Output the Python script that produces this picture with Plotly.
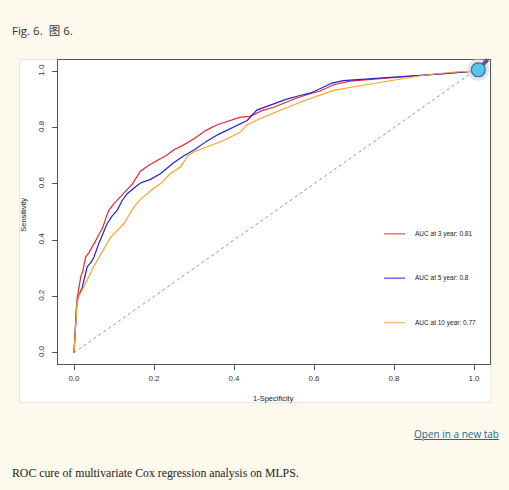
import plotly.graph_objects as go

# ROC points (1-specificity, sensitivity)
red_x = [0, 0.003, 0.005, 0.007, 0.012, 0.017, 0.022, 0.029, 0.037, 0.046, 0.055, 0.062, 0.071, 0.08,
         0.087, 0.10, 0.113, 0.125, 0.135, 0.146, 0.166, 0.187, 0.21, 0.23, 0.249, 0.27, 0.30, 0.33,
         0.358, 0.39, 0.416, 0.44, 0.47, 0.499, 0.53, 0.557, 0.59, 0.615, 0.649, 0.69, 0.75, 0.80,
         0.85, 0.898, 0.94, 0.981, 1.0]
red_y = [0, 0.06, 0.13, 0.186, 0.23, 0.27, 0.29, 0.34, 0.355, 0.376, 0.40, 0.42, 0.441, 0.48,
         0.506, 0.53, 0.55, 0.571, 0.585, 0.60, 0.645, 0.666, 0.685, 0.70, 0.72, 0.735, 0.76, 0.79,
         0.81, 0.825, 0.837, 0.84, 0.86, 0.872, 0.89, 0.905, 0.92, 0.93, 0.952, 0.965, 0.972, 0.978,
         0.983, 0.988, 0.995, 1.0, 1.0]

blue_x = [0, 0.002, 0.005, 0.007, 0.014, 0.021, 0.027, 0.033, 0.042, 0.05, 0.062, 0.072, 0.083, 0.095,
          0.108, 0.12, 0.133, 0.15, 0.166, 0.19, 0.216, 0.249, 0.275, 0.299, 0.33, 0.36, 0.383, 0.41,
          0.433, 0.457, 0.499, 0.53, 0.565, 0.59, 0.615, 0.645, 0.673, 0.72, 0.77, 0.82, 0.857, 0.91,
          0.965, 1.0]
blue_y = [0, 0.05, 0.12, 0.176, 0.21, 0.234, 0.27, 0.305, 0.32, 0.34, 0.388, 0.42, 0.459, 0.485,
          0.506, 0.54, 0.565, 0.585, 0.603, 0.615, 0.636, 0.675, 0.70, 0.719, 0.75, 0.775, 0.79, 0.81,
          0.825, 0.862, 0.884, 0.90, 0.914, 0.922, 0.938, 0.958, 0.967, 0.972, 0.978, 0.982, 0.985, 0.99,
          0.997, 1.0]

orange_x = [0, 0.003, 0.005, 0.008, 0.016, 0.025, 0.037, 0.047, 0.058, 0.075, 0.092, 0.108, 0.125, 0.138,
            0.15, 0.166, 0.183, 0.2, 0.216, 0.24, 0.266, 0.285, 0.299, 0.34, 0.374, 0.416, 0.433, 0.47,
            0.516, 0.565, 0.615, 0.649, 0.70, 0.76, 0.815, 0.87, 0.92, 0.965, 1.0]
orange_y = [0, 0.07, 0.13, 0.187, 0.21, 0.234, 0.27, 0.30, 0.329, 0.37, 0.411, 0.435, 0.459, 0.49,
            0.518, 0.545, 0.565, 0.585, 0.60, 0.635, 0.66, 0.70, 0.713, 0.735, 0.754, 0.784, 0.81, 0.835,
            0.861, 0.89, 0.915, 0.932, 0.945, 0.96, 0.973, 0.985, 0.993, 0.999, 1.0]

diag = [0, 1]
ticks = [0, 0.2, 0.4, 0.6, 0.8, 1.0]
tick_labels = ["0.0", "0.2", "0.4", "0.6", "0.8", "1.0"]

legend_labels = ["AUC at 3 year: 0.81", "AUC at 5 year: 0.8", "AUC at 10 year: 0.77"]
colors = ["#e8282c", "#2222d6", "#f4a52a"]

BG = "#fdf9ec"

# plot box in page pixels
L, R, T, B = 57.5, 490, 59.5, 364


def px(x):
    return (x - L) / (R - L)


def py(y):
    return (B - y) / (B - T)


fig = go.Figure()
fig.add_trace(go.Scatter(x=diag, y=diag, mode="lines",
                         line=dict(color="#777777", width=0.8, dash="3px,3px")))
for xs, ys, c in [(red_x, red_y, colors[0]), (blue_x, blue_y, colors[1]), (orange_x, orange_y, colors[2])]:
    fig.add_trace(go.Scatter(x=xs, y=ys, mode="lines", line=dict(color=c, width=1.2)))

axis_font = dict(family="Liberation Sans, Arial", size=8, color="#333333")
fig.update_xaxes(range=[-0.04, 1.04], tickvals=ticks, ticktext=tick_labels, ticks="outside",
                 ticklen=5, tickcolor="#555555", showline=True, mirror=True, linecolor="#555555",
                 linewidth=1, showgrid=False, zeroline=False, tickfont=axis_font, ticklabelstandoff=1)
fig.update_yaxes(range=[-0.04, 1.04], tickvals=ticks, ticktext=tick_labels, ticks="outside",
                 ticklen=5, tickcolor="#555555", showline=True, mirror=True, linecolor="#555555",
                 linewidth=1, showgrid=False, zeroline=False, tickfont=axis_font, tickangle=-90,
                 ticklabelstandoff=5)

shapes = [
    # white image card
    dict(type="rect", xref="paper", yref="paper", x0=px(19), x1=px(491), y0=py(402.7), y1=py(59),
         fillcolor="white", line=dict(color="#e6e6e6", width=1), layer="below"),
    # zoom icon
    dict(type="circle", xref="paper", yref="paper", x0=px(467.3), x1=px(489.3), y0=py(80.3), y1=py(58.3),
         fillcolor="rgba(210,210,215,0.55)", line=dict(width=0)),
    dict(type="line", xref="paper", yref="paper", x0=px(481.5), x1=px(487.8), y0=py(65.5), y1=py(59.2),
         line=dict(color="#7a4b8c", width=4)),
    dict(type="circle", xref="paper", yref="paper", x0=px(471.3), x1=px(485.3), y0=py(76.3), y1=py(62.3),
         fillcolor="#5cc6e8", line=dict(color="#2f6fa6", width=1.2)),
]
annotations = [
    dict(text="1-Specificity", x=px(273.5), y=py(399), font=dict(family="Liberation Sans, Arial", size=7.5, color="#222222")),
    dict(text="Sensitivity", x=px(23), y=py(215), textangle=-90,
         font=dict(family="Liberation Sans, Arial", size=7.5, color="#222222")),
    dict(text="Fig. 6.  图 6.", x=px(9), y=py(30), xanchor="left",
         font=dict(family="Open Sans, Noto Sans CJK SC", size=11.5, color="#333333")),
    dict(text="<u>Open in a new tab</u>", x=px(501), y=py(434), xanchor="right",
         font=dict(family="Open Sans, Noto Sans", size=10, color="#24698f")),
    dict(text="ROC cure of multivariate Cox regression analysis on MLPS.", x=px(9), y=py(473), xanchor="left",
         font=dict(family="Liberation Serif", size=11.8, color="#222222")),
]
for i, (lab, c) in enumerate(zip(legend_labels, colors)):
    ly = [233.7, 278, 322.7][i]
    shapes.append(dict(type="line", xref="paper", yref="paper", x0=px(384), x1=px(405), y0=py(ly), y1=py(ly),
                       line=dict(color=c, width=1)))
    annotations.append(dict(text=lab, x=px(413), y=py(ly), xanchor="left",
                            font=dict(family="Liberation Sans, Arial", size=6.5, color="#222222")))
for a in annotations:
    a.update(xref="paper", yref="paper", showarrow=False)
    a.setdefault("xanchor", "center")
    a.setdefault("yanchor", "middle")

fig.update_layout(width=509, height=490, margin=dict(l=L, r=509 - R, t=T, b=490 - B),
                  paper_bgcolor=BG, plot_bgcolor="white", showlegend=False,
                  shapes=shapes, annotations=annotations)

fig.write_html("out.html", config={"displayModeBar": False},
               post_script="document.body.style.margin='0';document.body.style.background='%s';" % BG)
